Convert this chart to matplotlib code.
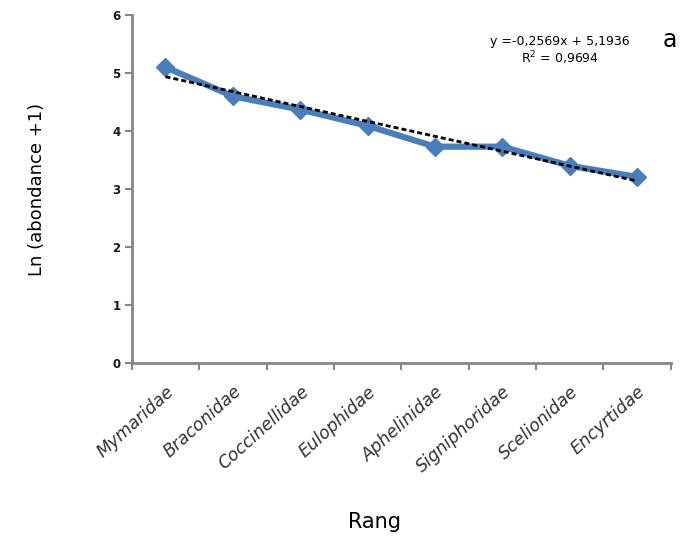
import matplotlib.pyplot as plt
import matplotlib.transforms as mtransforms
import numpy as np

familles = ['Mymaridae', 'Braconidae', 'Coccinellidae', 'Eulophidae',
            'Aphelinidae', 'Signiphoridae', 'Scelionidae', 'Encyrtidae']
ln_abondance = [5.10, 4.60, 4.37, 4.09, 3.73, 3.73, 3.40, 3.21]
pente = -0.2569
ordonnee = 5.1936
r2 = 0.9694

rang = np.arange(1, len(familles) + 1)
gris = '#868686'

fig = plt.figure(figsize=(6.83, 5.37), dpi=100)
ax = fig.add_axes([0.193, 0.324, 0.789, 0.648])

ax.plot(rang, ln_abondance, color='#4A7EBB', lw=4.5, marker='D', ms=9,
        markerfacecolor='#4A7EBB', markeredgecolor='#4A7EBB', zorder=2)
ax.plot(rang, pente * rang + ordonnee, color='black', lw=2,
        ls=(0, (1.8, 1.1)), zorder=3)

ax.set_xlim(0.5, len(familles) + 0.5)
ax.set_ylim(0, 6)
ax.set_yticks(range(0, 7))
ax.set_yticklabels([str(v) for v in range(0, 7)], fontsize=8.5,
                   fontweight='bold', color='#1a1a1a')

# ticks at category boundaries, labels centred in between
ax.set_xticks(np.arange(0.5, len(familles) + 1, 1))
ax.set_xticklabels([])
ax.set_xticks(rang, minor=True)
ax.set_xticklabels(familles, minor=True, rotation=42, ha='right',
                   rotation_mode='anchor', fontsize=12.5, style='italic',
                   color='#333333')
decale = mtransforms.ScaledTranslation(9 / 100, 0, fig.dpi_scale_trans)
for lab in ax.get_xticklabels(minor=True):
    lab.set_transform(lab.get_transform() + decale)
ax.tick_params(axis='x', which='minor', length=0, pad=14)
ax.tick_params(axis='both', which='major', direction='out', length=5,
               width=1.5, color=gris)
ax.tick_params(axis='y', pad=3)

for s in ['top', 'right']:
    ax.spines[s].set_visible(False)
for s in ['left', 'bottom']:
    ax.spines[s].set_color(gris)
    ax.spines[s].set_linewidth(2)

ax.set_ylabel('Ln (abondance +1)', fontsize=13, labelpad=48)
fig.text(0.548, 0.028, 'Rang', fontsize=15, ha='center', va='center')

fig.text(0.82, 0.922, 'y =-0,2569x + 5,1936', fontsize=9, ha='center',
         va='center')
fig.text(0.82, 0.892, 'R$^2$ = 0,9694', fontsize=9, ha='center',
         va='center')
fig.text(0.981, 0.925, 'a', fontsize=17, ha='center', va='center')

fig.savefig('out.png', dpi=100)
